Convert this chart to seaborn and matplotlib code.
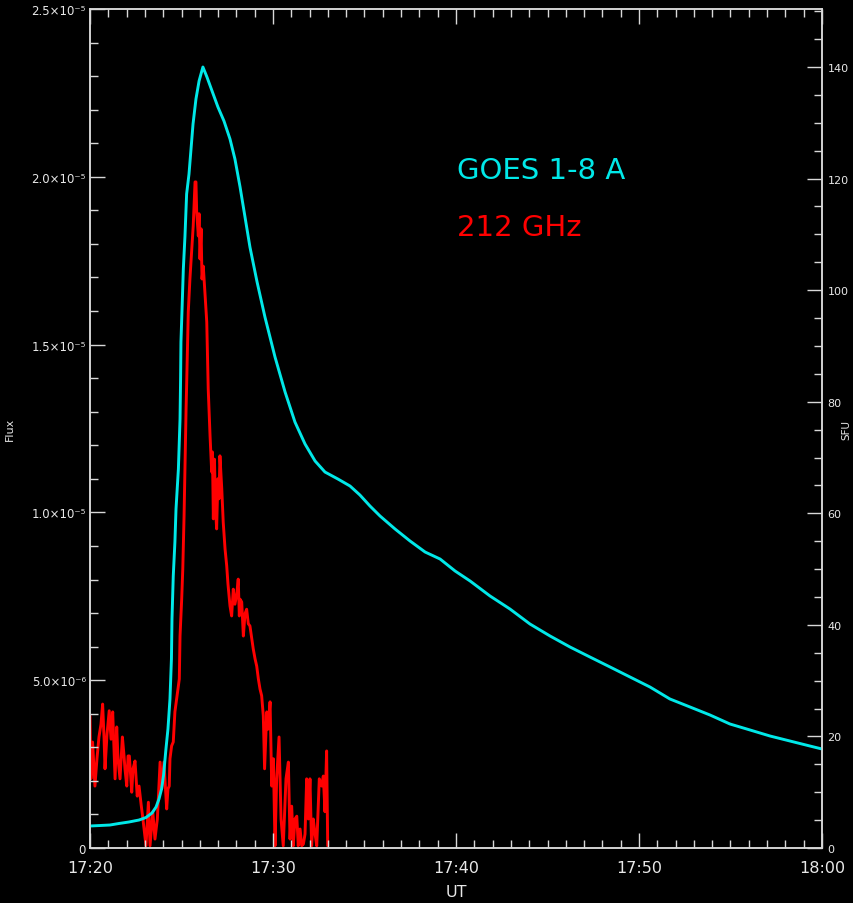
import numpy as np
import pandas as pd
import matplotlib
matplotlib.use("Agg")
import matplotlib.pyplot as plt
from matplotlib.ticker import MultipleLocator, FixedLocator
import seaborn as sns

# ---------------- data ----------------
# GOES 1-8 A : minutes after 17:20 UT, flux in units of 1e-6 W m^-2
goes_min = [0.00, 0.55, 1.09, 1.58, 2.13, 2.68, 3.06, 3.39, 3.61, 3.77, 3.91, 4.02,
            4.15, 4.26, 4.37, 4.45, 4.48, 4.55, 4.64, 4.70, 4.83, 4.92, 4.95, 4.97,
            5.03, 5.10, 5.19, 5.28, 5.41, 5.52, 5.63, 5.79, 5.96, 6.17, 6.39, 6.67,
            6.99, 7.32, 7.65, 7.92, 8.20, 8.47, 8.74, 9.13, 9.56, 10.11, 10.66, 11.20,
            11.75, 12.30, 12.84, 13.55, 14.21, 14.75, 15.30, 15.85, 16.67, 17.49, 18.31,
            19.13, 19.95, 20.77, 21.86, 22.95, 24.04, 25.14, 26.23, 27.32, 28.42, 29.51,
            30.60, 31.69, 32.79, 33.88, 34.97, 36.07, 37.16, 38.25, 39.34, 40.00]
goes_flux_e6 = [0.656, 0.670, 0.685, 0.730, 0.775, 0.834, 0.909, 1.043, 1.222, 1.460,
                1.758, 2.175, 2.950, 3.546, 4.440, 5.632, 6.824, 8.105, 9.118, 10.101,
                11.293, 12.783, 13.975, 15.077, 16.061, 17.252, 18.236, 19.487, 20.083,
                20.826, 21.573, 22.318, 22.854, 23.271, 22.974, 22.556, 22.080, 21.663,
                21.126, 20.530, 19.696, 18.802, 17.907, 16.865, 15.822, 14.630, 13.587,
                12.692, 12.038, 11.531, 11.203, 10.994, 10.786, 10.518, 10.190, 9.892,
                9.505, 9.147, 8.820, 8.611, 8.254, 7.956, 7.509, 7.121, 6.675, 6.317,
                5.989, 5.691, 5.393, 5.095, 4.797, 4.440, 4.201, 3.963, 3.695, 3.516,
                3.337, 3.188, 3.039, 2.950]

# 212 GHz : minutes after 17:20 UT, flux in SFU
ghz_min = [0.00, 0.03, 0.05, 0.14, 0.27, 0.38, 0.49, 0.60, 0.69, 0.77, 0.82, 0.93,
           1.05, 1.15, 1.24, 1.31, 1.37, 1.46, 1.53, 1.64, 1.77, 1.86, 1.91, 2.01,
           2.08, 2.15, 2.28, 2.35, 2.46, 2.58, 2.68, 2.79, 2.91, 3.06, 3.19, 3.28,
           3.43, 3.55, 3.68, 3.83, 3.92, 4.04, 4.19, 4.26, 4.33, 4.37, 4.46, 4.55,
           4.64, 4.83, 4.88, 4.92, 5.01, 5.07, 5.14, 5.25, 5.28, 5.37, 5.46, 5.56,
           5.64, 5.74, 5.79, 5.83, 5.92, 5.96, 6.01, 6.07, 6.12, 6.19, 6.28, 6.38,
           6.46, 6.56, 6.65, 6.69, 6.74, 6.80, 6.86, 6.92, 6.99, 7.05, 7.10, 7.20,
           7.28, 7.38, 7.47, 7.54, 7.65, 7.74, 7.83, 7.92, 8.02, 8.10, 8.16, 8.20,
           8.29, 8.38, 8.47, 8.56, 8.65, 8.74, 8.84, 8.92, 9.02, 9.11, 9.20, 9.29,
           9.38, 9.47, 9.54, 9.66, 9.73, 9.84, 9.93, 10.02, 10.11, 10.20, 10.33, 10.44,
           10.56, 10.71, 10.84, 10.93, 11.02, 11.11, 11.20, 11.30, 11.38, 11.48, 11.57,
           11.66, 11.75, 11.84, 11.93, 12.02, 12.11, 12.20, 12.30, 12.39, 12.53, 12.66,
           12.75, 12.84, 12.93, 12.99]
ghz_sfu = [23.7, 17.2, 12.4, 19.0, 11.1, 16.0, 19.9, 22.2, 25.8, 19.5, 14.2, 20.4,
           24.6, 19.5, 24.4, 17.7, 12.4, 21.7, 16.0, 12.4, 19.9, 16.5, 14.2, 11.1,
           16.5, 16.5, 10.0, 14.2, 15.6, 9.3, 11.1, 7.9, 4.7, 0.4, 8.2, 0.4,
           6.5, 1.6, 5.2, 15.4, 10.6, 15.4, 7.0, 10.6, 11.1, 16.0, 18.3, 19.0,
           24.4, 29.0, 30.3, 38.0, 44.6, 50.0, 59.5, 78.7, 82.8, 96.1, 102.0, 107.4,
           111.5, 119.4, 119.4, 114.0, 109.7, 113.7, 105.6, 111.0, 102.0, 104.3, 99.7, 94.3,
           82.3, 73.9, 67.4, 71.0, 59.0, 69.7, 60.8, 57.2, 66.2, 62.6, 70.3, 64.4,
           58.4, 53.6, 50.6, 47.3, 43.4, 41.6, 46.4, 43.7, 45.5, 48.2, 41.6, 44.6,
           44.1, 38.0, 42.0, 42.8, 40.2, 39.8, 37.5, 35.7, 33.9, 32.6, 30.3, 28.5,
           27.3, 23.7, 14.2, 24.4, 21.3, 26.2, 11.1, 16.0, 0.4, 12.4, 19.9, 5.2,
           0.4, 12.4, 15.4, 1.6, 7.5, 0.4, 5.2, 5.7, 0.4, 3.4, 0.4,
           0.7, 2.5, 12.4, 5.2, 12.4, 0.4, 5.2, 2.5, 0.4, 12.4, 11.1,
           12.9, 6.5, 17.4, 0.4]

x_ticks = [0, 10, 20, 30, 40]
x_labels = ["17:20", "17:30", "17:40", "17:50", "18:00"]
y_ticks_e6 = [0, 5, 10, 15, 20, 25]
y_labels = ["0", "5.0×10⁻⁶", "1.0×10⁻⁵", "1.5×10⁻⁵", "2.0×10⁻⁵", "2.5×10⁻⁵"]
sfu_ticks = [0, 20, 40, 60, 80, 100, 120, 140]

legend_texts = ["GOES 1-8 A", "212 GHz"]

# ---------------- style ----------------
sns.set_theme(style="dark", rc={
    "figure.facecolor": "black", "axes.facecolor": "black",
    "axes.edgecolor": "#d8d8d8", "text.color": "white",
    "xtick.color": "#d8d8d8", "ytick.color": "#d8d8d8",
    "axes.labelcolor": "white", "axes.grid": False,
})
plt.rcParams["font.family"] = ["DejaVu Sans"]

CYAN = "#00e8e8"
RED = "#ff0000"

goes_df = pd.DataFrame({"t": goes_min, "flux": np.array(goes_flux_e6) * 1e-6})
ghz_df = pd.DataFrame({"t": ghz_min, "sfu": ghz_sfu})

fig = plt.figure(figsize=(8.54, 9.04), dpi=100)
ax = fig.add_axes([90 / 854, 55 / 904, 732 / 854, 839 / 904])
ax2 = ax.twinx()

sns.lineplot(data=ghz_df, x="t", y="sfu", ax=ax2, color=RED, lw=2.1,
             estimator=None, sort=False)
sns.lineplot(data=goes_df, x="t", y="flux", ax=ax, color=CYAN, lw=2.1,
             estimator=None, sort=False)

# cyan above red
ax.set_zorder(ax2.get_zorder() + 1)
ax.patch.set_visible(False)
ax2.set_facecolor("black")

# x axis
ax.set_xlim(0, 40)
ax.xaxis.set_major_locator(FixedLocator(x_ticks))
ax.set_xticklabels(x_labels)
ax.xaxis.set_minor_locator(MultipleLocator(1))
ax.tick_params(axis="x", which="both", direction="in", top=True, bottom=True,
               labelsize=11.5, labelcolor="#e8e8e8", pad=9)
ax.tick_params(axis="x", which="major", length=11, width=1.0)
ax.tick_params(axis="x", which="minor", length=5.5, width=1.0)
ax.set_xlabel("UT", fontsize=11.5, color="#e8e8e8", labelpad=6)

# left y axis
ax.set_ylim(0, 2.5e-5)
ax.yaxis.set_major_locator(FixedLocator([v * 1e-6 for v in y_ticks_e6]))
ax.set_yticklabels(y_labels)
ax.yaxis.set_minor_locator(MultipleLocator(1e-6))
ax.tick_params(axis="y", which="both", direction="in", left=True, right=False,
               labelsize=8.5, labelcolor="#e8e8e8", pad=3)
ax.tick_params(axis="y", which="major", length=10.5, width=1.0)
ax.tick_params(axis="y", which="minor", length=5.5, width=1.0)
ax.set_ylabel("Flux", fontsize=8, color="#e8e8e8", labelpad=12)

# right y axis (SFU)
ax2.set_ylim(0, 150.4)
ax2.yaxis.set_major_locator(FixedLocator(sfu_ticks))
ax2.yaxis.set_minor_locator(MultipleLocator(5))
ax2.tick_params(axis="y", which="both", direction="in", right=True, left=False,
                labelsize=8, labelcolor="#e8e8e8", pad=4)
ax2.tick_params(axis="y", which="major", length=10.5, width=1.0)
ax2.tick_params(axis="y", which="minor", length=5.5, width=1.0)
ax2.tick_params(axis="x", which="both", bottom=False, top=False,
                labelbottom=False)
ax2.set_ylabel("SFU", fontsize=7.5, color="#e8e8e8", rotation=90,
               va="center", ha="center")
ax2.yaxis.set_label_coords(1.0335, 0.5)
ax2.set_xlabel("")

for a in (ax, ax2):
    for s in a.spines.values():
        s.set_color("#d8d8d8")
        s.set_linewidth(1.1)

# in-plot legend texts
ax.text(0.501, 0.7986, legend_texts[0], transform=ax.transAxes, color=CYAN,
        fontsize=21, va="baseline", ha="left")
ax.text(0.501, 0.7306, legend_texts[1], transform=ax.transAxes, color=RED,
        fontsize=21, va="baseline", ha="left")

fig.savefig("out.png", dpi=100, facecolor="black")
